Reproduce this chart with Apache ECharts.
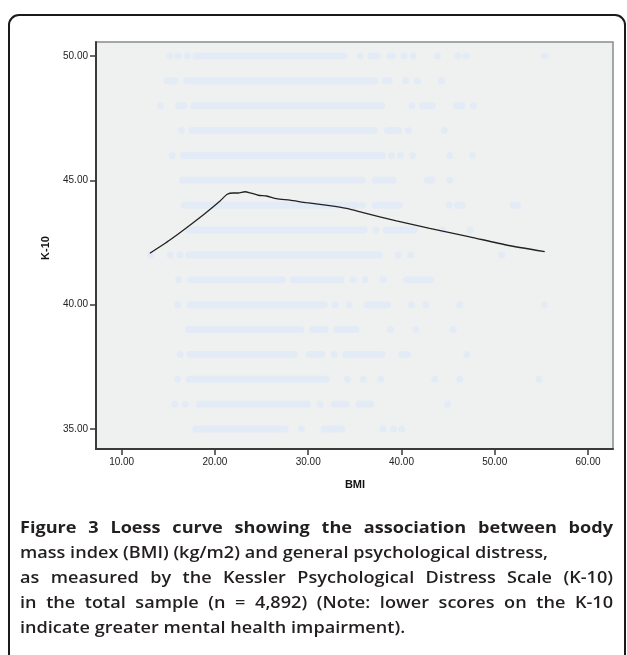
<!DOCTYPE html>
<html>
<head>
<meta charset="utf-8">
<script src="https://cdn.jsdelivr.net/npm/echarts@6/dist/echarts.min.js"></script>
<style>
html,body{margin:0;padding:0;background:#fff;}
#chart{width:627px;height:655px;}
</style>
</head>
<body>
<div id="chart"></div>
<script>
// ---- Data ----
// Loess curve (BMI, K-10)
const loessBMI = [13.03, 15.17, 18.74, 20.55, 21.32, 21.96, 22.5, 23.21, 23.75, 24.64, 25.54, 26.6, 28.03, 29.82, 32.3, 34.1, 35.89, 39.46, 43.03, 47.32, 51.25, 55.36];
const loessK10 = [42.07, 42.6, 43.61, 44.17, 44.44, 44.49, 44.49, 44.54, 44.5, 44.4, 44.37, 44.26, 44.2, 44.1, 43.98, 43.87, 43.7, 43.37, 43.07, 42.73, 42.4, 42.13];

// Faint scatter of observations: for each K-10 value, runs of BMI values [from, to]
const k10Levels = [50, 49, 48, 47, 46, 45, 44, 43, 42, 41, 40, 39, 38, 37, 36, 35];
const row50 = [[15.18,15.18],[16.07,16.07],[17.03,17.03],[17.96,33.86],[35.57,35.57],[36.71,37.43],[38.75,39.04],[40.25,40.25],[41.25,41.25],[43.86,43.86],[46.07,46.07],[46.96,46.96],[55.36,55.36]];
const row49 = [[14.86,15.71],[16.96,37.14],[38.21,38.68],[40.46,40.46],[41.71,41.71],[44.29,44.29]];
const row48 = [[14.14,14.14],[16.11,16.68],[17.71,37.89],[41.11,41.11],[42.25,43.32],[45.89,46.46],[47.71,47.71]];
const row47 = [[16.43,16.43],[17.5,37.07],[38.5,39.68],[40.75,40.75],[44.61,44.61]];
const row46 = [[15.43,15.43],[16.61,37.96],[38.93,38.93],[39.89,39.89],[41.18,41.18],[45.18,45.18],[47.64,47.64]];
const row45 = [[16.54,35.82],[37.18,39.11],[42.79,43.25],[45.18,45.18]];
const row44 = [[16.71,35.11],[35.82,35.82],[37.18,39.75],[45.11,45.11],[46.0,46.5],[51.96,52.43]];
const row43 = [[17.18,36.0],[37.25,37.25],[38.39,41.36],[44.39,44.39],[47.36,47.36]];
const row42 = [[13.07,13.07],[15.21,15.21],[16.25,16.25],[17.18,37.61],[39.64,39.64],[41.0,41.0],[50.75,50.75]];
const row41 = [[16.11,16.11],[17.43,27.25],[28.39,33.5],[34.82,34.82],[36.11,36.11],[38.04,38.04],[40.54,43.14]];
const row40 = [[16.0,16.0],[17.36,31.71],[32.89,32.89],[34.39,34.39],[36.29,38.5],[41.07,41.07],[42.61,42.61],[46.25,46.25],[55.32,55.32]];
const row39 = [[17.18,29.21],[30.46,31.82],[33.04,35.11],[38.82,38.82],[41.54,41.54],[45.54,45.54]];
const row38 = [[16.29,16.29],[17.32,28.5],[30.11,31.46],[32.79,32.79],[34.04,37.89],[40.04,40.64],[47.0,47.0]];
const row37 = [[16.0,16.0],[17.25,31.96],[34.21,34.21],[35.89,35.89],[37.79,37.79],[43.57,43.57],[46.25,46.25],[54.75,54.75]];
const row36 = [[15.71,15.71],[16.82,16.82],[18.32,29.93],[31.29,31.29],[32.79,34.04],[35.46,36.71],[44.93,44.93]];
const row35 = [[17.96,27.54],[29.29,29.29],[31.71,33.61],[38.04,38.04],[39.14,39.14],[40.04,40.04]];
const scatterRows = [row50,row49,row48,row47,row46,row45,row44,row43,row42,row41,row40,row39,row38,row37,row36,row35];

// Axis ticks
const xTicks = [10, 20, 30, 40, 50, 60];
const yTicks = [35, 40, 45, 50];
const xTitle = 'BMI';
const yTitle = 'K-10';

// Caption
const captionLines = [
  'Figure 3 Loess curve showing the association between body',
  'mass index (BMI) (kg/m2) and general psychological distress,',
  'as measured by the Kessler Psychological Distress Scale (K-10)',
  'in the total sample (n = 4,892) (Note: lower scores on the K-10',
  'indicate greater mental health impairment).'
];
const captionJustify = [true, false, true, true, false];

// ---- Build ----
const scatterData = [];
scatterRows.forEach((row, i) => {
  row.forEach(seg => scatterData.push([seg[0], seg[1], k10Levels[i]]));
});
const loessData = loessBMI.map((x, i) => [x, loessK10[i]]);

const chart = echarts.init(document.getElementById('chart'), null, {renderer: 'canvas'});

// caption layout with measured word widths
const cv = document.createElement('canvas');
const ctx = cv.getContext('2d');
const capFamily = '"Open Sans", "Noto Sans", sans-serif';
const capLeft = 20, capRight = 613;
const capY0 = 528, capStep = 25;
const capSize = 16.5;
// horizontal condensing so the unjustified second line ends where it does in the figure
ctx.font = '600 ' + capSize + 'px ' + capFamily;
let capScale = (548 - capLeft) / ctx.measureText(captionLines[1]).width;
captionLines.forEach((line, li) => {
  if (!captionJustify[li]) return;
  ctx.font = (li === 0 ? '700 ' : '600 ') + capSize + 'px ' + capFamily;
  const w = ctx.measureText(line).width;
  const maxS = (capRight - capLeft) / w;
  if (capScale > maxS * 0.99) capScale = maxS * 0.99;
});

const captionGraphics = [];
captionLines.forEach((line, li) => {
  const words = line.split(' ');
  const weights = words.map(() => li === 0 ? 700 : 600);
  const widths = words.map((w, wi) => { ctx.font = weights[wi] + ' ' + capSize + 'px ' + capFamily; return ctx.measureText(w).width * capScale; });
  ctx.font = weights[0] + ' ' + capSize + 'px ' + capFamily;
  const space = ctx.measureText(' ').width * capScale;
  const total = widths.reduce((a, b) => a + b, 0);
  const gap = captionJustify[li] ? (capRight - capLeft - total) / (words.length - 1) : space;
  let x = capLeft;
  words.forEach((w, wi) => {
    captionGraphics.push({
      type: 'text', x: x, y: capY0 + li * capStep, scaleX: capScale,
      style: {text: w, fill: '#231f20', font: weights[wi] + ' ' + capSize + 'px ' + capFamily, textVerticalAlign: 'middle', textAlign: 'left'}
    });
    x += widths[wi] + gap;
  });
});

const axisLabelStyle = {fontFamily: '"Liberation Sans", Arial, sans-serif', fontSize: 10, color: '#222'};

chart.setOption({
  animation: false,
  backgroundColor: '#ffffff',
  grid: {left: 96, top: 42, right: 14, bottom: 206, show: true, backgroundColor: '#eff1f0', borderColor: '#8a8a8a', borderWidth: 1.5},
  xAxis: {
    type: 'value', min: 7.25, max: 62.68,
    splitLine: {show: false},
    axisLine: {show: true, onZero: false, lineStyle: {color: '#3a3a3a', width: 2}},
    axisTick: {show: true, length: 6, customValues: xTicks, lineStyle: {color: '#3a3a3a', width: 1.5}},
    axisLabel: Object.assign({customValues: xTicks, margin: 8, formatter: v => v.toFixed(2)}, axisLabelStyle)
  },
  yAxis: {
    type: 'value', min: 34.2, max: 50.56,
    splitLine: {show: false},
    axisLine: {show: true, onZero: false, lineStyle: {color: '#3a3a3a', width: 2}},
    axisTick: {show: true, length: 6, customValues: yTicks, lineStyle: {color: '#3a3a3a', width: 1.5}},
    axisLabel: Object.assign({customValues: yTicks, margin: 8, formatter: v => v.toFixed(2)}, axisLabelStyle)
  },
  series: [
    {
      type: 'custom', z: 1, silent: true,
      data: scatterData,
      encode: {x: [0, 1], y: 2},
      renderItem: function (params, api) {
        const p1 = api.coord([api.value(0), api.value(2)]);
        const p2 = api.coord([api.value(1), api.value(2)]);
        const h = 7;
        return {
          type: 'rect',
          shape: {x: p1[0] - h / 2, y: p1[1] - h / 2, width: p2[0] - p1[0] + h, height: h, r: h / 2},
          style: {fill: '#e3ebf6'}
        };
      }
    },
    {
      type: 'line', z: 3, data: loessData, symbol: 'none', smooth: 0.2,
      lineStyle: {color: '#222', width: 1.3}
    }
  ],
  graphic: [
    {type: 'rect', z: -10, shape: {x: 9, y: 15, width: 616, height: 720, r: 10}, style: {fill: 'none', stroke: '#1a1a1a', lineWidth: 2}},
    {type: 'text', x: 46, y: 248, rotation: Math.PI / 2, style: {text: yTitle, font: 'bold 11px "Liberation Sans", Arial, sans-serif', fill: '#111', textAlign: 'center', textVerticalAlign: 'middle'}},
    {type: 'text', x: 355, y: 485, style: {text: xTitle, font: 'bold 11px "Liberation Sans", Arial, sans-serif', fill: '#111', textAlign: 'center', textVerticalAlign: 'middle'}}
  ].concat(captionGraphics)
});
</script>
</body>
</html>
